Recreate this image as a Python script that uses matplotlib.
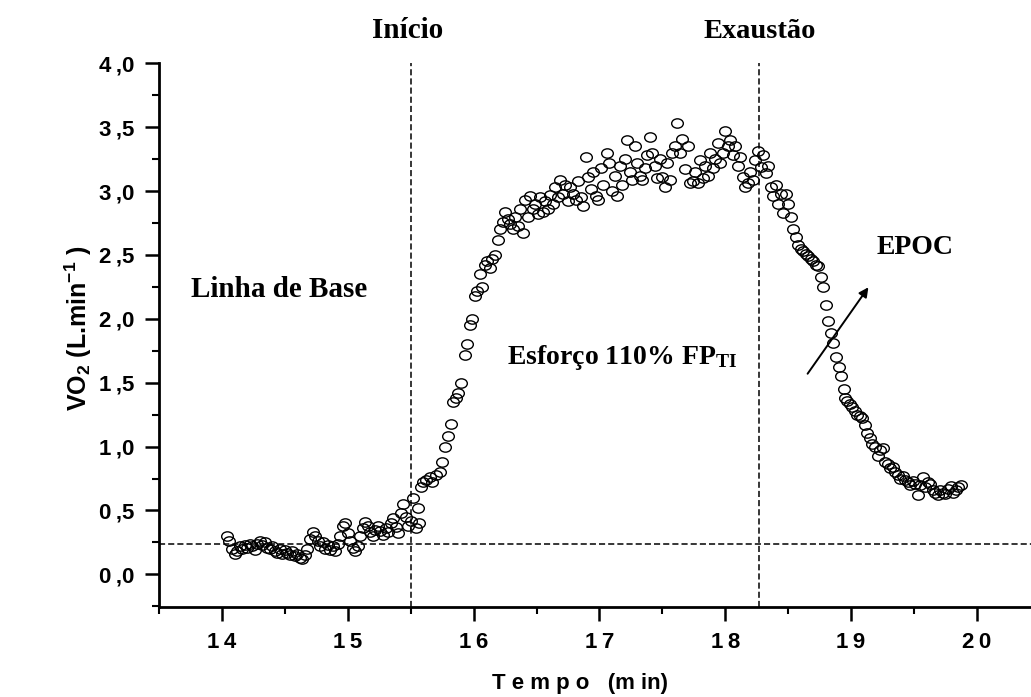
import matplotlib
matplotlib.use("Agg")
import matplotlib.pyplot as plt
from matplotlib.path import Path
from matplotlib.transforms import Affine2D
from matplotlib.ticker import MultipleLocator

# ---------------- data ----------------
t_baseline = [14.04, 14.06, 14.08, 14.10, 14.12, 14.14, 14.16, 14.18, 14.20, 14.22, 14.24, 14.26,
              14.28, 14.30, 14.32, 14.34, 14.36, 14.38, 14.40, 14.42, 14.44, 14.46, 14.48, 14.50,
              14.52, 14.54, 14.56, 14.58, 14.60, 14.62, 14.64, 14.66, 14.68, 14.70, 14.72, 14.74,
              14.76, 14.78, 14.80, 14.82, 14.84, 14.86, 14.88, 14.90, 14.92, 14.94, 14.96, 14.98,
              15.00, 15.02, 15.04, 15.06, 15.08, 15.10, 15.12, 15.14, 15.16, 15.18, 15.20, 15.22,
              15.24, 15.26, 15.28, 15.30, 15.32, 15.34, 15.36, 15.38, 15.40, 15.42, 15.44, 15.46,
              15.48, 15.50]
vo2_baseline = [0.30, 0.26, 0.20, 0.16, 0.18, 0.22, 0.20, 0.23, 0.21, 0.24, 0.22, 0.19,
                0.24, 0.26, 0.23, 0.25, 0.21, 0.20, 0.22, 0.18, 0.17, 0.20, 0.16, 0.19,
                0.17, 0.15, 0.18, 0.14, 0.16, 0.13, 0.12, 0.15, 0.20, 0.28, 0.33, 0.30,
                0.26, 0.22, 0.25, 0.20, 0.23, 0.19, 0.22, 0.18, 0.24, 0.30, 0.38, 0.40,
                0.32, 0.26, 0.21, 0.18, 0.22, 0.30, 0.36, 0.41, 0.38, 0.33, 0.30, 0.35,
                0.38, 0.34, 0.31, 0.36, 0.33, 0.40, 0.44, 0.37, 0.32, 0.48, 0.55, 0.45,
                0.38, 0.42]

t_exercise = [15.52, 15.54, 15.56, 15.57, 15.58, 15.60, 15.62, 15.65, 15.67, 15.70, 15.73, 15.75,
              15.77, 15.80, 15.82, 15.84, 15.86, 15.88, 15.90, 15.93, 15.95, 15.97, 15.99, 16.01,
              16.03, 16.05, 16.07, 16.09, 16.11, 16.13, 16.15, 16.17, 16.19, 16.21, 16.23, 16.25,
              16.27, 16.29, 16.31, 16.33, 16.35, 16.37, 16.39, 16.41, 16.43, 16.45, 16.47, 16.49,
              16.51, 16.53, 16.55, 16.57, 16.59, 16.61, 16.63, 16.65, 16.67, 16.69, 16.71, 16.73,
              16.75, 16.77, 16.79, 16.81, 16.83, 16.85, 16.87, 16.89, 16.91, 16.93, 16.95, 16.97,
              16.99, 17.01, 17.03, 17.06, 17.08, 17.10, 17.12, 17.14, 17.16, 17.18, 17.20, 17.22,
              17.24, 17.26, 17.28, 17.30, 17.32, 17.34, 17.36, 17.38, 17.40, 17.42, 17.44, 17.46,
              17.48, 17.50, 17.52, 17.54, 17.56, 17.58, 17.60, 17.62, 17.64, 17.66, 17.68, 17.70,
              17.72, 17.74, 17.76, 17.78, 17.80, 17.82, 17.84, 17.86, 17.88, 17.90, 17.92, 17.94,
              17.96, 17.98, 18.00, 18.02, 18.04, 18.06, 18.08, 18.10, 18.12, 18.14, 18.16, 18.18,
              18.20, 18.22, 18.24, 18.26]
vo2_exercise = [0.60, 0.36, 0.52, 0.40, 0.68, 0.72, 0.74, 0.76, 0.72, 0.78, 0.80, 0.88,
                1.00, 1.08, 1.18, 1.35, 1.38, 1.42, 1.50, 1.72, 1.80, 1.95, 2.00, 2.18,
                2.22, 2.35, 2.25, 2.42, 2.45, 2.40, 2.47, 2.50, 2.62, 2.70, 2.76, 2.84,
                2.78, 2.74, 2.70, 2.80, 2.73, 2.86, 2.67, 2.93, 2.80, 2.96, 2.86, 2.90,
                2.82, 2.95, 2.84, 2.92, 2.86, 2.97, 2.90, 3.03, 2.95, 3.09, 2.98, 3.05,
                2.92, 3.03, 2.98, 2.93, 3.08, 2.95, 2.88, 3.27, 3.11, 3.02, 3.15, 2.96,
                2.93, 3.18, 3.05, 3.30, 3.22, 3.00, 3.12, 2.96, 3.20, 3.05, 3.25, 3.40,
                3.15, 3.09, 3.35, 3.22, 3.12, 3.09, 3.18, 3.28, 3.42, 3.30, 3.20, 3.10,
                3.25, 3.11, 3.03, 3.22, 3.09, 3.30, 3.35, 3.53, 3.30, 3.41, 3.17, 3.35,
                3.06, 3.08, 3.15, 3.06, 3.24, 3.10, 3.20, 3.12, 3.30, 3.18, 3.25, 3.38,
                3.22, 3.30, 3.47, 3.35, 3.40, 3.28, 3.35, 3.20, 3.27, 3.11, 3.03, 3.06,
                3.15, 3.09, 3.24, 3.31]

t_recovery = [18.28, 18.30, 18.32, 18.34, 18.36, 18.38, 18.40, 18.42, 18.44, 18.46, 18.48, 18.50,
              18.52, 18.54, 18.56, 18.58, 18.60, 18.62, 18.64, 18.66, 18.68, 18.70, 18.72, 18.74,
              18.76, 18.78, 18.80, 18.82, 18.84, 18.86, 18.88, 18.90, 18.92, 18.94, 18.95, 18.97,
              18.99, 19.01, 19.03, 19.05, 19.07, 19.09, 19.11, 19.13, 19.15, 19.17, 19.19, 19.21,
              19.23, 19.25, 19.27, 19.29, 19.31, 19.33, 19.35, 19.37, 19.39, 19.41, 19.43, 19.45,
              19.47, 19.49, 19.51, 19.53, 19.55, 19.57, 19.59, 19.61, 19.63, 19.65, 19.67, 19.69,
              19.71, 19.73, 19.75, 19.77, 19.79, 19.81, 19.83, 19.85, 19.87]
vo2_recovery = [3.19, 3.28, 3.14, 3.20, 3.03, 2.96, 3.05, 2.90, 2.98, 2.83, 2.98, 2.90,
                2.80, 2.70, 2.64, 2.58, 2.55, 2.53, 2.51, 2.49, 2.47, 2.45, 2.42, 2.41,
                2.33, 2.25, 2.11, 1.98, 1.89, 1.81, 1.70, 1.62, 1.55, 1.45, 1.38, 1.36,
                1.33, 1.31, 1.28, 1.25, 1.24, 1.22, 1.17, 1.11, 1.07, 1.02, 1.00, 0.93,
                0.97, 0.99, 0.88, 0.86, 0.83, 0.84, 0.80, 0.78, 0.75, 0.77, 0.74, 0.72,
                0.70, 0.73, 0.71, 0.62, 0.70, 0.76, 0.68, 0.72, 0.71, 0.66, 0.64, 0.62,
                0.66, 0.64, 0.63, 0.67, 0.69, 0.64, 0.66, 0.68, 0.70]

baseline_level = 0.24
t_start = 15.5
t_exhaustion = 18.27

x_ticks = [14, 15, 16, 17, 18, 19, 20]
x_tick_labels = ["1\u20094", "1\u20095", "1\u20096", "1\u20097", "1\u20098", "1\u20099", "2\u20090"]
y_ticks = [0.0, 0.5, 1.0, 1.5, 2.0, 2.5, 3.0, 3.5, 4.0]
y_tick_labels = ["0\u2009,0", "0\u2009,5", "1\u2009,0", "1\u2009,5", "2\u2009,0",
                 "2\u2009,5", "3\u2009,0", "3\u2009,5", "4\u2009,0"]

# ---------------- figure ----------------
plt.rcParams["mathtext.default"] = "regular"
SANS = ["Liberation Sans Narrow", "Liberation Sans", "DejaVu Sans"]
SERIF = ["Liberation Serif", "DejaVu Serif"]

fig = plt.figure(figsize=(10.31, 6.97), dpi=100)
ax = fig.add_axes([159 / 1031, (697 - 607.3) / 697, 1 - 159 / 1031, (607.3 - 63.3) / 697])

ellipse = Path.unit_circle().transformed(Affine2D().scale(1.0, 0.8))
for t, v in ((t_baseline, vo2_baseline), (t_exercise, vo2_exercise), (t_recovery, vo2_recovery)):
    ax.plot(t, v, linestyle="none", marker=ellipse, markersize=8.4,
            markerfacecolor="none", markeredgecolor="black", markeredgewidth=1.0, zorder=3)

ax.axhline(baseline_level, color="black", lw=1.1, ls=(0, (4, 2)), zorder=2)
ax.axvline(t_start, color="black", lw=1.1, ls=(0, (4, 2)), zorder=2)
ax.axvline(t_exhaustion, color="black", lw=1.1, ls=(0, (4, 2)), zorder=2)

ax.set_xlim(13.5, 14 + (1031 - 222.8) / 125.7)
ax.set_ylim(-0.258, 4.0)

for s in ("top", "right"):
    ax.spines[s].set_visible(False)
for s in ("left", "bottom"):
    ax.spines[s].set_linewidth(2.0)

ax.set_xticks(x_ticks)
ax.set_xticklabels(x_tick_labels)
ax.set_yticks(y_ticks)
ax.set_yticklabels(y_tick_labels)
ax.xaxis.set_minor_locator(MultipleLocator(0.5))
ax.yaxis.set_minor_locator(MultipleLocator(0.25))
ax.tick_params(which="major", length=10, width=1.8, direction="out", pad=8)
ax.tick_params(which="minor", length=5, width=1.5, direction="out")
for lab in ax.get_xticklabels() + ax.get_yticklabels():
    lab.set_fontfamily(SANS)
    lab.set_fontweight("bold")
    lab.set_fontsize(16)

fig.text(78 / 1031, 1 - 328 / 697, "VO$_2$ (L.min$^{-1}$ )", rotation=90, ha="center", va="center",
         fontfamily=SANS, fontweight="bold", fontsize=18)
fig.text(580 / 1031, 1 - 683 / 697, "T e m p o   (m in)", ha="center", va="center",
         fontfamily=SANS, fontweight="bold", fontsize=16)

serif_kw = dict(fontfamily=SERIF, fontweight="bold", color="black")
fig.text(408 / 1031, 1 - 31 / 697, "Início", ha="center", va="center", fontsize=21, **serif_kw)
fig.text(760 / 1031, 1 - 31 / 697, "Exaustão", ha="center", va="center", fontsize=20.5, **serif_kw)
fig.text(279 / 1031, 1 - 290 / 697, "Linha de Base", ha="center", va="center", fontsize=21, **serif_kw)
fig.text(622 / 1031, 1 - 357 / 697, "Esforço 110% FP$_{TI}$", ha="center", va="center", fontsize=20, **serif_kw)
fig.text(915 / 1031, 1 - 247 / 697, "EPOC", ha="center", va="center", fontsize=20, **serif_kw)

ax.annotate("", xy=(870 / 1031, 1 - 285 / 697), xytext=(806 / 1031, 1 - 376 / 697),
            xycoords="figure fraction", textcoords="figure fraction",
            arrowprops=dict(arrowstyle="-|>", color="black", lw=1.4, mutation_scale=14))

fig.savefig("out.png", dpi=100)
